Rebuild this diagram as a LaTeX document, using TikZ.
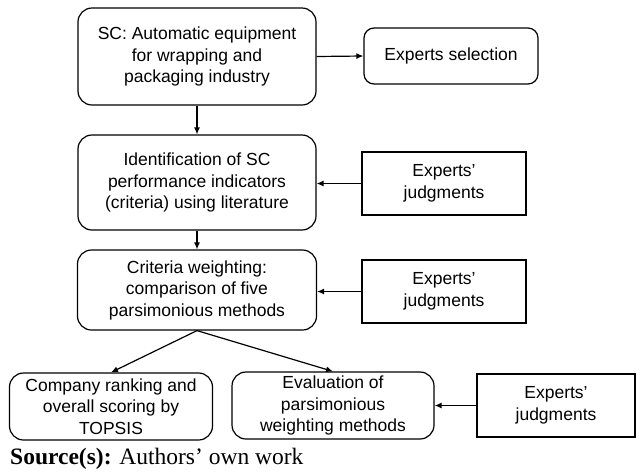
\documentclass[tikz,border=0pt]{standalone}
\usepackage{fontspec}
\setmainfont{Liberation Sans}
\newfontfamily\srcfont{Liberation Serif}
\usetikzlibrary{arrows.meta}
\tikzset{
  rbox/.style={draw, line width=1.2pt, rounded corners=14pt, align=center, inner sep=0pt,
    font=\fontsize{17.5}{21.5}\selectfont},
  sbox/.style={draw, line width=1.2pt, align=center, inner sep=0pt,
    font=\fontsize{17.5}{21.5}\selectfont},
  arr/.style={line width=1.2pt, -{Latex[length=7pt,width=6pt]}}
}
\begin{document}
\begin{tikzpicture}[x=1pt,y=-1pt]
\useasboundingbox (0,0) rectangle (636,472);
\node[rbox, minimum width=238pt, minimum height=97pt] (sc) at (197,56.5) {SC: Automatic equipment\\for wrapping and\\packaging industry};
\node[rbox, rounded corners=10pt, minimum width=174pt, minimum height=56pt] (sel) at (451,56) {Experts selection};
\node[rbox, minimum width=238pt, minimum height=95pt] (ident) at (197,182.5) {Identification of SC\\performance indicators\\(criteria) using literature};
\node[sbox, minimum width=164pt, minimum height=63pt] (j1) at (444,183.5) {Experts’\\judgments};
\node[rbox, minimum width=239pt, minimum height=80pt] (crit) at (197,290) {Criteria weighting:\\comparison of five\\parsimonious methods};
\node[sbox, minimum width=164pt, minimum height=63pt] (j2) at (444,291.5) {Experts’\\judgments};
\node[rbox, minimum width=203pt, minimum height=67pt] (bl) at (111,406.5) {Company ranking and\\overall scoring by\\TOPSIS};
\node[rbox, minimum width=202pt, minimum height=67pt] (bm) at (333,405.5) {Evaluation of\\parsimonious\\weighting methods};
\node[sbox, minimum width=158pt, minimum height=63pt] (j3) at (556,405.5) {Experts’\\judgments};
\node[anchor=base west, inner sep=0pt, font=\srcfont\fontsize{23.5}{26}\selectfont] (src) at (10,464) {\textbf{Source(s):} Authors’ own work};
\draw[arr] (sc.east) -- (sel.west);
\draw[arr] (sc.south) -- (ident.north);
\draw[arr] (ident.south) -- (crit.north);
\draw[arr] (j1.west) -- (ident.east |- j1.west);
\draw[arr] (j2.west) -- (crit.east |- j2.west);
\draw[arr] (j3.west) -- (bm.east |- j3.west);
\draw[arr] (crit.south) -- (bl.north);
\draw[arr] (crit.south) -- (bm.north);
\end{tikzpicture}
\end{document}
